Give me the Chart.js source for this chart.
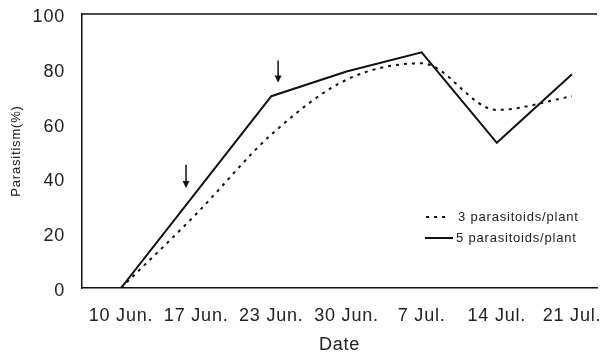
<!DOCTYPE html>
<html>
<head>
<meta charset="utf-8">
<script src="https://cdn.jsdelivr.net/npm/chart.js@4/dist/chart.umd.min.js"></script>
<style>
  html, body { margin: 0; padding: 0; background: #fff; }
  #wrap { width: 605px; height: 358px; }
</style>
</head>
<body>
<div id="wrap"><canvas id="c" width="605" height="358"></canvas></div>
<script>
const dates = ["10 Jun.", "17 Jun.", "23 Jun.", "30 Jun.", "7 Jul.", "14 Jul.", "21 Jul."];
const yTicks = [0, 20, 40, 60, 80, 100];
const series3 = [0, 27, 56, 76, 82, 65, 70];
const series5 = [0, 35, 70, 79, 86, 53, 78];
const label3 = "3 parasitoids/plant";
const label5 = "5 parasitoids/plant";
// release arrows: date position (index units) and value from top to tip
const arrowX = [0.865, 2.09];
const arrowTop = [45, 83];
const arrowTip = [36.5, 75];

const ink = '#111';
const fontFam = '"Liberation Sans", Arial, sans-serif';

const spacing = {
  id: 'spacing',
  beforeDraw(chart) { chart.ctx.letterSpacing = '0.8px'; }
};

const extras = {
  id: 'extras',
  afterDraw(chart) {
    const ctx = chart.ctx, a = chart.chartArea;
    const xs = chart.scales.x, ys = chart.scales.y;
    ctx.save();
    ctx.strokeStyle = ink; ctx.lineWidth = 1.5;
    ctx.beginPath(); ctx.moveTo(a.left, a.top); ctx.lineTo(a.right, a.top); ctx.stroke();
    for (let i = 0; i < arrowX.length; i++) {
      const x = xs.getPixelForValue(arrowX[i]);
      const y0 = ys.getPixelForValue(arrowTop[i]);
      const y1 = ys.getPixelForValue(arrowTip[i]);
      ctx.lineWidth = 1.5; ctx.strokeStyle = ink; ctx.fillStyle = ink;
      ctx.beginPath(); ctx.moveTo(x, y0); ctx.lineTo(x, y1 - 5); ctx.stroke();
      ctx.beginPath(); ctx.moveTo(x - 3.5, y1 - 7); ctx.lineTo(x + 3.5, y1 - 7); ctx.lineTo(x, y1); ctx.closePath(); ctx.fill();
    }
    const ds = chart.data.datasets;
    const rows = [{ y: a.top + 203, x0: a.left + 344, x1: a.left + 368, tx: a.left + 376 },
                  { y: a.top + 224, x0: a.left + 343, x1: a.left + 371, tx: a.left + 374 }];
    ctx.font = '13px ' + fontFam; ctx.textBaseline = 'middle'; ctx.textAlign = 'left';
    ctx.letterSpacing = '0.8px';
    ds.forEach((d, i) => {
      const r = rows[i];
      ctx.strokeStyle = d.borderColor; ctx.lineWidth = d.borderWidth;
      ctx.setLineDash(d.borderDash || []);
      ctx.beginPath(); ctx.moveTo(r.x0, r.y); ctx.lineTo(r.x1, r.y); ctx.stroke();
      ctx.setLineDash([]);
      ctx.fillStyle = '#222';
      ctx.fillText(d.label, r.tx, r.y);
    });
    ctx.restore();
  }
};

new Chart(document.getElementById('c'), {
  type: 'line',
  data: {
    datasets: [
      { label: label3, data: series3.map((v, i) => ({ x: i, y: v })), borderColor: ink, borderWidth: 2,
        borderDash: [3, 5], tension: 0.35, cubicInterpolationMode: 'monotone', pointRadius: 0, fill: false },
      { label: label5, data: series5.map((v, i) => ({ x: i, y: v })), borderColor: ink, borderWidth: 2,
        tension: 0, pointRadius: 0, fill: false }
    ]
  },
  options: {
    responsive: false,
    animation: false,
    devicePixelRatio: 1,
    layout: { padding: { left: 0, right: 8, top: 14, bottom: 0 } },
    plugins: { legend: { display: false }, tooltip: { enabled: false } },
    scales: {
      x: {
        type: 'linear', min: -0.519, max: 6.333,
        grid: { display: false, drawTicks: false },
        border: { display: true, color: ink, width: 1.5 },
        afterBuildTicks(s) { s.ticks = dates.map((d, i) => ({ value: i })); },
        afterFit(s) { s.height = 70; s.paddingLeft = 0; s.paddingRight = 0; s.paddingTop = 0; s.paddingBottom = 0; },
        ticks: { autoSkip: false, maxRotation: 0, padding: 17, color: '#222',
                 font: { family: fontFam, size: 18 },
                 callback: (v) => dates[v] },
        title: { display: true, text: 'Date', color: '#222', font: { family: fontFam, size: 18 },
                 padding: { top: 0, bottom: 2 } }
      },
      y: {
        min: 0, max: 100,
        grid: { display: false, drawTicks: false },
        border: { display: true, color: ink, width: 1.5 },
        afterBuildTicks(s) { s.ticks = yTicks.map(v => ({ value: v })); },
        afterFit(s) { s.width = 82; s.paddingLeft = 0; s.paddingRight = 0; s.paddingTop = 0; s.paddingBottom = 0; },
        ticks: { padding: 17, labelOffset: 3, color: '#222', font: { family: fontFam, size: 18 } },
        title: { display: true, text: 'Parasitism(%)', color: '#222', font: { family: fontFam, size: 13 },
                 padding: { top: 9, bottom: 0 } }
      }
    }
  },
  plugins: [spacing, extras]
});
</script>
</body>
</html>
